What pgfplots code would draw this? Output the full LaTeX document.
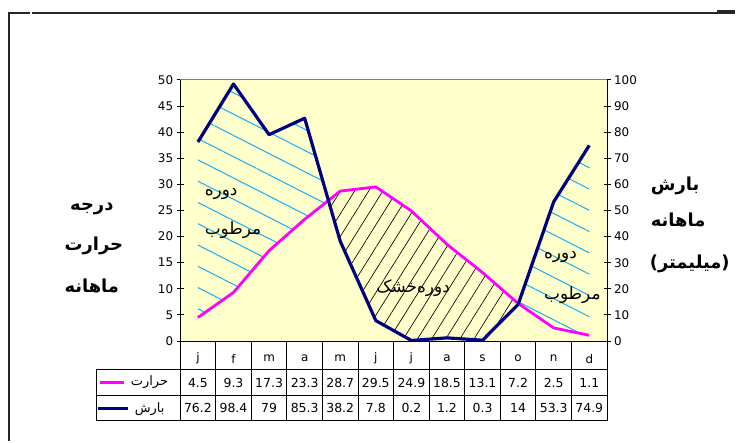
\documentclass[border=0pt]{standalone}
\usepackage{pgfplots}
\pgfplotsset{compat=1.18}
\usepackage{pgfplotstable}
\usepgfplotslibrary{fillbetween}
\usetikzlibrary{patterns.meta}
\usepackage{fontspec}
\setmainfont{DejaVu Sans}
\newfontfamily\arabicfont[Script=Arabic]{DejaVu Sans}
\TeXXeTstate=1

\definecolor{plotbg}{RGB}{255,255,204}
\definecolor{tempc}{RGB}{255,0,255}
\definecolor{rainc}{RGB}{0,0,128}
\definecolor{wetc}{RGB}{20,175,245}

% monthly mean temperature (C) and precipitation (mm)
\pgfplotstableread{
x  T    P
0  4.5  76.2
1  9.3  98.4
2  17.3 79
3  23.3 85.3
4  28.7 38.2
5  29.5 7.8
6  24.9 0.2
7  18.5 1.2
8  13.1 0.3
9  7.2  14
10 2.5  53.3
11 1.1  74.9
}\climate

\newcommand{\ar}[1]{{\arabicfont\beginR #1\endR}}
\tikzset{
  wet/.style={draw=none, pattern={Lines[angle=-27,distance=19bp,line width=1bp]}, pattern color=wetc},
  dry/.style={draw=none, pattern={Lines[angle=58,distance=12bp,line width=0.65bp]}, pattern color=black},
}

\begin{document}
\begin{tikzpicture}
\begin{scope}[x=1bp,y=-1bp]
  \path[use as bounding box] (0,0) rectangle (736,442);
\end{scope}

% right axis: precipitation 0-100, background and all series
\begin{axis}[
  at={(180.5bp,-341.7bp)}, anchor=south west,
  scale only axis, width=427.8bp, height=261.7bp,
  xmin=-0.5, xmax=11.5, ymin=0, ymax=100,
  axis x line=none, axis y line*=right,
  axis line style={-, black, line width=0.8bp},
  axis background/.style={fill=plotbg},
  ytick distance=10,
  tick align=center, major tick length=7bp,
  y tick style={black, line width=0.8bp},
  tick label style={font=\fontsize{12}{14}\selectfont},
  /pgf/number format/assume math mode=true,
  set layers,
]
\addplot[name path=temp, tempc, line width=2.8bp, line join=round] table[x=x, y expr=2*\thisrow{T}] {\climate};
\addplot[name path=rain, rainc, line width=3.2bp, line join=round] table[x=x, y=P] {\climate};
\addplot[wet] fill between[of=temp and rain, split,
  every segment no 0/.style={wet},
  every segment no 1/.style={dry},
  every segment no 2/.style={wet}];
\end{axis}

% left axis: temperature 0-50 and month row
\begin{axis}[
  at={(180.5bp,-341.7bp)}, anchor=south west,
  scale only axis, width=427.8bp, height=261.7bp,
  xmin=-0.5, xmax=11.5, ymin=0, ymax=50,
  axis x line*=bottom, axis y line*=left,
  axis line style={-, black, line width=0.8bp},
  ytick distance=5,
  xtick={0,...,11}, xticklabels={j,f,m,a,m,j,j,a,s,o,n,d},
  x tick style={draw=none},
  xticklabel style={anchor=center, yshift=-14.1bp},
  tick align=center, major tick length=7bp,
  y tick style={black, line width=0.8bp},
  tick label style={font=\fontsize{12}{14}\selectfont},
  /pgf/number format/assume math mode=true,
]
\end{axis}

\begin{scope}[x=1bp,y=-1bp]
  % outer frame
  \draw[line width=2bp, black!85] (9,442) -- (9,13) -- (30,13);
  \draw[line width=2bp, black!85] (32,13) -- (736,13);
  \draw[line width=3bp, black!85] (718,12) -- (736,12);
  % plot area top border
  \draw[line width=0.8bp, gray] (180.5,80) -- (608.3,80);

  % data table grid
  \foreach \k in {0,...,12}
    \draw[line width=0.9bp] ({180.5+35.65*\k},341.7) -- ({180.5+35.65*\k},421.7);
  \draw[line width=0.9bp] (96.7,370) -- (608.3,370);
  \draw[line width=0.9bp] (96.7,396.7) -- (608.3,396.7);
  \draw[line width=0.9bp] (96.7,421.7) -- (608.3,421.7);
  \draw[line width=0.9bp] (96.7,370) -- (96.7,421.7);

  % legend cells
  \draw[tempc, line width=2.8bp] (100,383.3) -- (124,383.3);
  \node[anchor=west, inner sep=0pt, font=\fontsize{13}{15}\selectfont] at (131,383.3) {\ar{حرارت}};
  \draw[rainc, line width=3.2bp] (98,409.5) -- (128,409.5);
  \node[anchor=west, inner sep=0pt, font=\fontsize{13}{15}\selectfont] at (135,409.5) {\ar{بارش}};

  % table values
  \pgfplotstableforeachcolumnelement{T}\of\climate\as\cell{%
    \node[font=\fontsize{12.5}{14}\selectfont, inner sep=0pt, anchor=base] at ({180.5+35.65*(\pgfplotstablerow+0.5)},387.8) {\cell};}
  \pgfplotstableforeachcolumnelement{P}\of\climate\as\cell{%
    \node[font=\fontsize{12.5}{14}\selectfont, inner sep=0pt, anchor=base] at ({180.5+35.65*(\pgfplotstablerow+0.5)},413.8) {\cell};}

  % axis titles
  \begin{scope}[every node/.style={font=\fontsize{18}{20}\selectfont\bfseries, inner sep=0pt}]
    \node at (92,209) {\ar{درجه}};
    \node at (94,246) {\ar{حرارت}};
    \node at (92,287) {\ar{ماهانه}};
    \node[anchor=west] at (652,186.5) {\ar{بارش}};
    \node[anchor=west] at (652,220.5) {\ar{ماهانه}};
    \node[anchor=west] at (651,264.5) {(\ar{میلیمتر})};
  \end{scope}

  % period labels
  \begin{scope}[every node/.style={font=\fontsize{17}{19}\selectfont, inner sep=0pt, anchor=west}]
    \node at (205,194) {\ar{دوره}};
    \node at (205,231) {\ar{مرطوب}};
    \node at (545,257.5) {\ar{دوره}};
    \node at (545,296) {\ar{مرطوب}};
    \node at (377,289) {\ar{دوره‌خشک}};
  \end{scope}
\end{scope}
\end{tikzpicture}
\end{document}
